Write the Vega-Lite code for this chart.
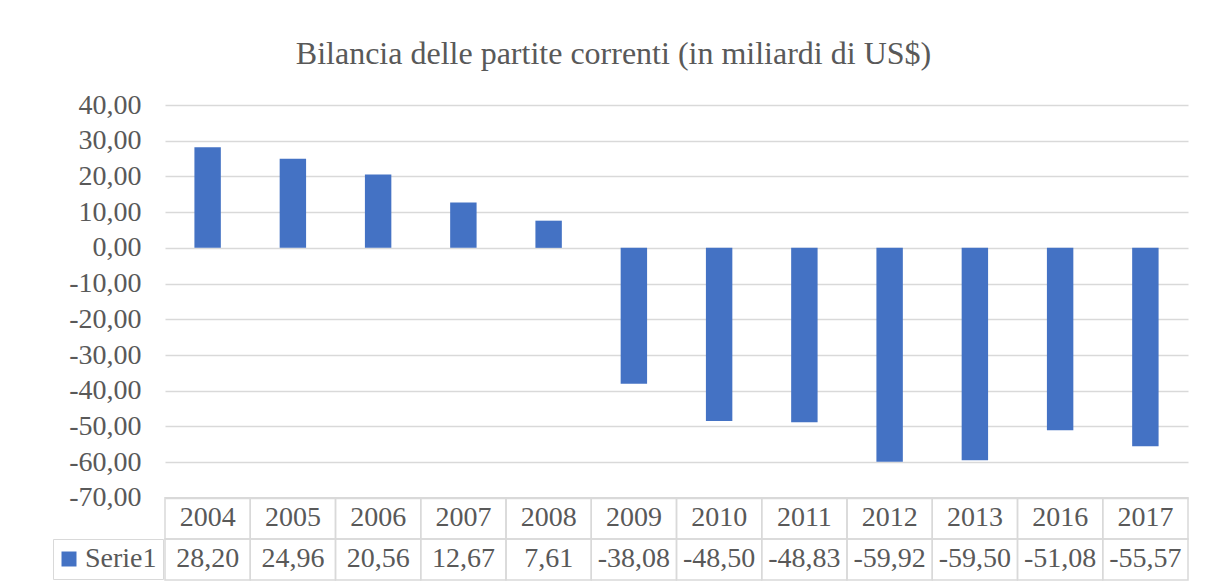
{
  "$schema": "https://vega.github.io/schema/vega-lite/v6.json",
  "width": 1023,
  "height": 475,
  "autosize": {"type": "none"},
  "padding": {"left": 165, "top": 105, "right": 17, "bottom": 3},
  "background": "white",
  "config": {
    "view": {"stroke": null},
    "locale": {"number": {"decimal": ",", "thousands": ".", "grouping": [3], "currency": ["", " €"], "minus": "-"}}
  },
  "title": {
    "text": "Bilancia delle partite correnti (in miliardi di US$)",
    "font": "Liberation Serif",
    "fontSize": 32,
    "fontWeight": "normal",
    "color": "#595959",
    "anchor": "middle",
    "frame": "group",
    "baseline": "alphabetic",
    "offset": -5,
    "dx": -63
  },
  "data": {
    "values": [
      {"year": "2004", "value": 28.20},
      {"year": "2005", "value": 24.96},
      {"year": "2006", "value": 20.56},
      {"year": "2007", "value": 12.67},
      {"year": "2008", "value": 7.61},
      {"year": "2009", "value": -38.08},
      {"year": "2010", "value": -48.50},
      {"year": "2011", "value": -48.83},
      {"year": "2012", "value": -59.92},
      {"year": "2013", "value": -59.50},
      {"year": "2016", "value": -51.08},
      {"year": "2017", "value": -55.57}
    ]
  },
  "layer": [
    {
      "mark": {"type": "bar", "color": "#4472c4"},
      "encoding": {
        "x": {"field": "year", "type": "ordinal", "sort": null, "scale": {"paddingInner": 0.69, "paddingOuter": 0.345}, "axis": null},
        "y": {
          "field": "value", "type": "quantitative",
          "scale": {"domain": [-93, 40], "nice": false, "zero": false},
          "axis": {
            "values": [-70, -60, -50, -40, -30, -20, -10, 0, 10, 20, 30, 40],
            "format": ".2f", "title": null, "domain": false, "ticks": false,
            "labelFont": "Liberation Serif", "labelFontSize": 28, "labelColor": "#595959",
            "labelPadding": 24, "labelFlush": false, "labelOverlap": false,
            "grid": true, "gridColor": "#d9d9d9", "gridWidth": 1.5
          }
        },
        "color": {
          "datum": "Serie1", "type": "nominal",
          "scale": {"range": ["#4472c4"]},
          "legend": {
            "title": null, "orient": "none", "legendX": -112, "legendY": 434,
            "labelFont": "Liberation Serif", "labelFontSize": 28, "labelColor": "#595959",
            "symbolType": "square", "symbolSize": 225, "labelOffset": 2, "symbolOffset": -4, "padding": 6,
            "strokeColor": "#d9d9d9", "symbolStrokeWidth": 0
          }
        }
      }
    },
    {
      "mark": {"type": "rect", "filled": false, "stroke": "#d9d9d9", "strokeWidth": 1.5},
      "encoding": {
        "x": {"field": "year", "type": "ordinal", "sort": null, "scale": {"paddingInner": 0, "paddingOuter": 0}, "axis": null},
        "y": {"datum": -70, "type": "quantitative"},
        "y2": {"datum": -81.5}
      }
    },
    {
      "mark": {"type": "rect", "filled": false, "stroke": "#d9d9d9", "strokeWidth": 1.5},
      "encoding": {
        "x": {"field": "year", "type": "ordinal", "sort": null, "scale": {"paddingInner": 0, "paddingOuter": 0}, "axis": null},
        "y": {"datum": -81.5, "type": "quantitative"},
        "y2": {"datum": -93}
      }
    },
    {
      "mark": {"type": "text", "font": "Liberation Serif", "fontSize": 28, "color": "#595959", "baseline": "middle", "align": "center"},
      "encoding": {
        "x": {"field": "year", "type": "ordinal", "sort": null, "scale": {"paddingInner": 0, "paddingOuter": 0}, "axis": null},
        "y": {"datum": -75.75, "type": "quantitative"},
        "text": {"field": "year", "type": "nominal"}
      }
    },
    {
      "mark": {"type": "text", "font": "Liberation Serif", "fontSize": 28, "color": "#595959", "baseline": "middle", "align": "center"},
      "encoding": {
        "x": {"field": "year", "type": "ordinal", "sort": null, "scale": {"paddingInner": 0, "paddingOuter": 0}, "axis": null},
        "y": {"datum": -87.25, "type": "quantitative"},
        "text": {"field": "value", "type": "quantitative", "format": ".2f"}
      }
    }
  ],
  "resolve": {"scale": {"x": "independent"}}
}
